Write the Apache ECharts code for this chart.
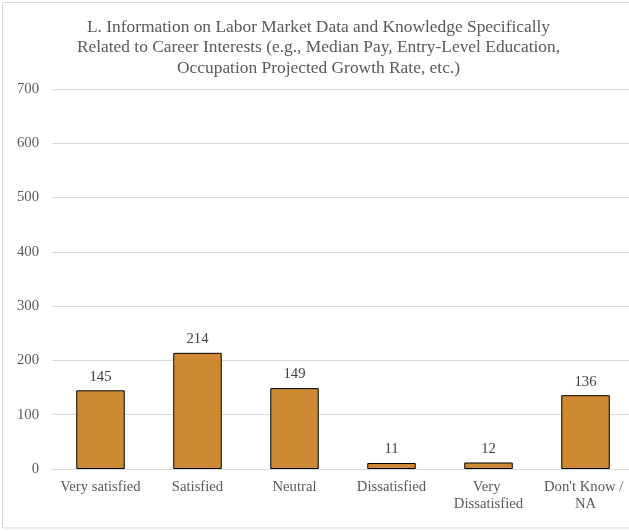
<!DOCTYPE html>
<html>
<head>
<meta charset="utf-8">
<script src="https://cdn.jsdelivr.net/npm/echarts@6/dist/echarts.min.js"></script>
<style>
  html, body { margin: 0; padding: 0; background: #fff; overflow: hidden; }
  /* the original chart is a bit wider than the picture and gets cut on the right */
  #chart { width: 637px; height: 531px; }
</style>
</head>
<body>
<div id="chart"></div>
<script>
// answer categories and counts
var categories = ['Very satisfied', 'Satisfied', 'Neutral', 'Dissatisfied', 'Very Dissatisfied', "Don't Know / NA"];
var counts = [145, 214, 149, 11, 12, 136];
var yTicks = [0, 100, 200, 300, 400, 500, 600, 700];

var chart = echarts.init(document.getElementById('chart'));
var serif = '"Liberation Serif", "Times New Roman", serif';

var option = {
    animation: false,
    textStyle: { fontFamily: serif },
    // chart area frame
    graphic: [{
        type: 'rect',
        shape: { x: 2.5, y: 2.5, width: 640, height: 525.5 },
        style: { fill: null, stroke: '#d9d9d9', lineWidth: 1 },
        silent: true
    }],
    title: {
        text: 'L. Information on Labor Market Data and Knowledge Specifically\nRelated to Career Interests (e.g., Median Pay, Entry-Level Education,\nOccupation Projected Growth Rate, etc.)',
        left: 'center',
        top: 12,
        textStyle: {
            fontFamily: serif,
            fontSize: 17.4,
            fontWeight: 'normal',
            color: '#595959',
            lineHeight: 20.5
        }
    },
    grid: { left: 52, right: 3, top: 89, bottom: 62 },
    xAxis: {
        type: 'category',
        data: categories,
        axisLine: { lineStyle: { color: '#d9d9d9' } },
        axisTick: { show: false },
        axisLabel: {
            fontFamily: serif,
            fontSize: 14.7,
            color: '#595959',
            margin: 10,
            width: 90,
            overflow: 'break',
            lineHeight: 16.5,
            interval: 0
        }
    },
    yAxis: {
        type: 'value',
        min: yTicks[0],
        max: yTicks[yTicks.length - 1],
        interval: 100,
        axisLine: { show: false },
        axisTick: { show: false },
        splitLine: { lineStyle: { color: '#d9d9d9' } },
        axisLabel: {
            fontFamily: serif,
            fontSize: 14.7,
            color: '#595959',
            margin: 13
        }
    },
    series: [{
        type: 'bar',
        data: counts,
        barWidth: '50%',
        itemStyle: {
            color: '#CD8A32',
            borderColor: '#000',
            borderWidth: 1
        },
        label: {
            show: true,
            position: 'top',
            distance: 6,
            fontFamily: serif,
            fontSize: 14.7,
            color: '#404040'
        }
    }]
};
chart.setOption(option);
</script>
</body>
</html>
